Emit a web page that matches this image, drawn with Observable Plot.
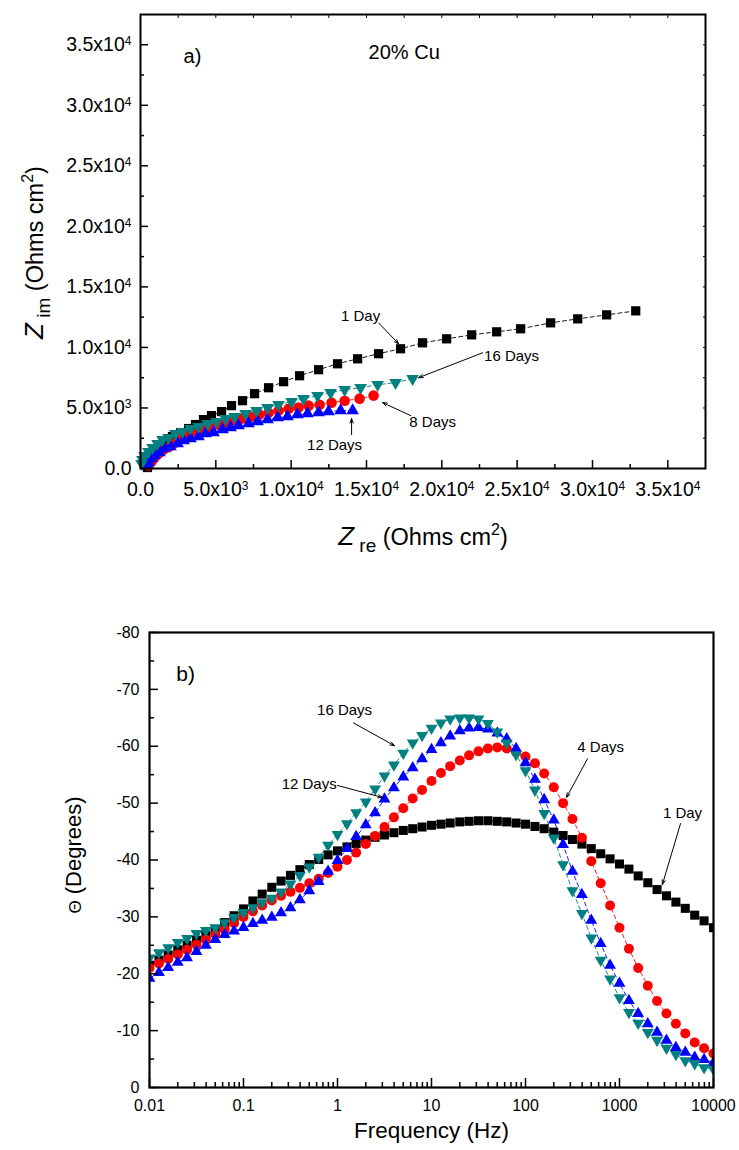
<!DOCTYPE html>
<html><head><meta charset="utf-8">
<script src="https://cdn.jsdelivr.net/npm/d3@7"></script>
<script src="https://cdn.jsdelivr.net/npm/@observablehq/plot@0.6"></script>
<style>
body{margin:0;background:#fff;}
#wrap{position:relative;width:739px;height:1150px;background:#fff;overflow:hidden;}
#wrap svg{position:absolute;left:0;}
</style></head><body><div id="wrap"></div>
<script>
// ---------- Panel a) Nyquist data (Ohms cm^2) ----------
const zre1  = [32870,30940,29020,27220,25230,23640,21980,20320,18720,17260,15800,14410,13080,11820,10560,9500,8500,7570,6770,6040,5380,4710,4180,3650,3190,2660,2120,1660,1260,930,660,530,460];
const zim1  = [13020,12690,12360,12030,11540,11290,11040,10710,10380,9890,9480,9060,8650,8160,7660,7170,6670,6180,5600,5190,4700,4370,4040,3630,3300,2970,2640,2220,1810,1320,820,410,80];
const zre8  = [15470,14540,13550,12680,11890,11160,10490,9830,9160,8500,7900,7300,6710,6180,5640,5110,4580,4120,3650,3190,2720,2320,1930,1530,1200,930,730,530];
const zim8  = [6020,5770,5600,5440,5270,5190,5030,4940,4780,4610,4450,4280,4120,3960,3790,3630,3380,3210,3050,2800,2550,2140,1810,1570,1240,910,580,250];
const zre12 = [14080,13280,12480,11820,11090,10420,9760,9100,8430,7770,7170,6510,5980,5440,4850,4320,3850,3320,2860,2460,1990,1590,1260,930,730,530,460];
const zim12 = [4780,4780,4700,4610,4530,4450,4280,4200,4040,3870,3710,3540,3380,3210,2970,2880,2640,2470,2310,2060,1810,1650,1320,1070,820,490,250];
const zre16 = [18060,16930,15740,14610,13550,12620,11750,10820,10030,9160,8430,7700,6970,6240,5640,5050,4450,3850,3320,2790,2320,1860,1460,1130,800,530,270,130,70];
const zim16 = [7420,7090,6920,6670,6510,6260,6020,5770,5520,5270,5030,4780,4530,4280,4120,3870,3710,3460,3300,3050,2880,2550,2390,2060,1730,1400,1070,740,410];

const ticksA = [0,5000,10000,15000,20000,25000,30000,35000];
const minorA = [2500,7500,12500,17500,22500,27500,32500];

const annA = [
  {text:"1 Day",   x:14610, y:12610},
  {text:"16 Days", x:24630, y:9310},
  {text:"8 Days",  x:19390, y:3790},
  {text:"12 Days", x:12880, y:1900}
];
const arrowsA = [
  {x1:15800,y1:12030,x2:17130,y2:10300},
  {x1:22710,y1:9560, x2:18460,y2:7500},
  {x1:17930,y1:4370, x2:16070,y2:5440},
  {x1:14010,y1:2800, x2:14010,y2:4120}
];
const panelLabelA = [{text:"a)", x:3450, y:34030}];
const alloyLabel  = [{text:"20% Cu", x:15140, y:34360}];

// ---------- Panel b) Bode phase data ----------
const freq = [0.01,0.0126,0.0158,0.02,0.0251,0.0316,0.0398,0.0501,0.0631,0.0794,
  0.1,0.126,0.158,0.2,0.251,0.316,0.398,0.501,0.631,0.794,
  1,1.26,1.58,2,2.51,3.16,3.98,5.01,6.31,7.94,
  10,12.6,15.8,20,25.1,31.6,39.8,50.1,63.1,79.4,
  100,126,158,200,251,316,398,501,631,794,
  1000,1260,1580,2000,2510,3160,3980,5010,6310,7940,10000];
const theta1 = [-21.5,-22.4,-23.3,-24.2,-25.0,-25.9,-26.8,-27.8,-29.0,-30.2,
  -31.4,-32.8,-34.0,-35.2,-36.3,-37.3,-38.3,-39.2,-40.1,-40.9,
  -41.6,-42.3,-42.9,-43.5,-44.0,-44.4,-44.8,-45.2,-45.5,-45.8,
  -46.1,-46.3,-46.5,-46.7,-46.8,-46.9,-46.9,-46.8,-46.7,-46.5,
  -46.3,-45.9,-45.5,-44.9,-44.3,-43.6,-42.8,-42.0,-41.1,-40.2,
  -39.3,-38.4,-37.2,-36.0,-34.8,-33.7,-32.6,-31.5,-30.3,-29.3,-28.1];
const theta4 = [-21.0,-21.8,-22.6,-23.4,-24.2,-25.1,-26.0,-26.9,-27.8,-28.9,
  -30.0,-31.0,-32.0,-32.9,-33.7,-34.4,-35.1,-35.9,-36.7,-37.7,
  -38.8,-40.0,-41.3,-42.8,-44.2,-45.8,-47.5,-49.1,-50.8,-52.3,
  -53.9,-55.3,-56.5,-57.5,-58.4,-59.1,-59.6,-59.8,-59.6,-59.0,
  -58.2,-57.0,-55.2,-52.8,-50.0,-47.2,-43.9,-39.8,-35.9,-32.0,
  -28.1,-24.4,-21.0,-17.9,-15.2,-13.0,-11.2,-9.5,-7.9,-6.9,-6.0];
const theta12 = [-19.2,-20.2,-21.1,-22.0,-22.8,-23.9,-25.0,-26.0,-26.9,-27.5,
  -28.1,-28.8,-29.4,-29.9,-30.7,-31.6,-33.0,-34.6,-36.2,-38.0,
  -39.9,-42.0,-44.1,-46.2,-48.3,-50.7,-52.7,-54.6,-56.2,-57.8,
  -59.4,-60.6,-61.8,-62.7,-63.2,-63.3,-63.0,-62.3,-61.3,-59.6,
  -57.1,-54.2,-50.6,-47.0,-42.7,-38.0,-33.9,-29.4,-25.3,-21.5,
  -18.3,-15.3,-13.0,-11.2,-9.7,-8.3,-7.0,-6.2,-5.3,-4.9,-4.4];
const theta16 = [-22.8,-23.7,-24.6,-25.5,-26.2,-27.1,-27.6,-28.1,-29.0,-29.9,
  -30.8,-31.6,-32.5,-33.3,-34.4,-35.8,-37.3,-38.8,-40.5,-42.6,
  -44.5,-46.4,-48.3,-50.2,-52.5,-54.8,-56.7,-58.8,-60.6,-61.9,
  -63.2,-64.1,-64.8,-65.0,-65.0,-64.8,-64.0,-62.5,-60.6,-58.5,
  -55.7,-52.3,-48.2,-43.9,-39.2,-34.6,-30.6,-26.3,-22.4,-19.1,
  -15.8,-13.2,-11.3,-9.7,-8.3,-6.9,-5.8,-4.7,-4.2,-3.5,-3.2];

const ticksBx = [0.01,0.1,1,10,100,1000,10000];
const ticksBy = [0,-10,-20,-30,-40,-50,-60,-70,-80];
const minorBy = [-5,-15,-25,-35,-45,-55,-65,-75];

const annB = [
  {text:"16 Days", f:1.19, t:-66.3},
  {text:"12 Days", f:0.50, t:-53.3},
  {text:"4 Days",  f:630,  t:-59.9},
  {text:"1 Day",   f:4680, t:-48.2}
];
const arrowsB = [
  {f1:1.48, t1:-64.1, f2:4.04, t2:-60.1},
  {f1:1.0,  t1:-53.1, f2:3.0,  t2:-51.0},
  {f1:457,  t1:-57.8, f2:273,  t2:-51.0},
  {f1:4460, t1:-46.4, f2:2860, t2:-35.7}
];
const panelLabelB = [{text:"b)", f:0.0242, t:-72.6}];

// ---------- helpers ----------
const FONT = "'Liberation Sans', Arial, Helvetica, sans-serif";
const BLACK = "#000000", RED = "#ff0000", BLUE = "#0000ff", TEAL = "#008080";
const S3 = Math.sqrt(3);
const downTri = {draw(ctx, size){ const y = -Math.sqrt(size / (S3 * 3)); ctx.moveTo(0, -2 * y); ctx.lineTo(-S3 * y, y); ctx.lineTo(S3 * y, y); ctx.closePath(); }};
const upTri = {draw(ctx, size){ const y = -Math.sqrt(size / (S3 * 3)); ctx.moveTo(0, 2 * y); ctx.lineTo(-S3 * y, -y); ctx.lineTo(S3 * y, -y); ctx.closePath(); }};

const zip = (xs, ys) => xs.map((x, i) => ({x, y: ys[i]}));
const sciFmt = v => {
  if (v === 0) return "0.0";
  const e = Math.floor(Math.log10(v) + 1e-9);
  return (v / Math.pow(10, e)).toFixed(1) + "x10^" + e;
};
const minorBx = [];
for (let k = -2; k < 4; k++) for (let m = 2; m <= 9; m++) minorBx.push(m * Math.pow(10, k));

const blank = () => "";
const W = 739, H = 575;

// ---------- Panel a ----------
const s1 = zip(zre1, zim1), s8 = zip(zre8, zim8), s12 = zip(zre12, zim12), s16 = zip(zre16, zim16);
const lineOpts = {x:"x", y:"y", strokeWidth:0.9, strokeDasharray:"4,3"};
const plotA = Plot.plot({
  width: W, height: H,
  marginLeft: 140, marginRight: 34, marginTop: 14, marginBottom: 107,
  style: {fontFamily: FONT, fontSize: "19px", color: "#000", background: "transparent", overflow: "visible"},
  x: {domain: [0, 37500], label: null},
  y: {domain: [0, 37500], label: null},
  marks: [
    Plot.line(s1,  {...lineOpts, stroke: BLACK}),
    Plot.line(s8,  {...lineOpts, stroke: RED}),
    Plot.line(s12, {...lineOpts, stroke: BLUE}),
    Plot.line(s16, {...lineOpts, stroke: TEAL}),
    Plot.dot(s1,  {x:"x", y:"y", symbol:"square", r:5.2, fill: BLACK, stroke: null}),
    Plot.dot(s8,  {x:"x", y:"y", symbol:"circle", r:5.3, fill: RED, stroke: null}),
    Plot.dot(s12, {x:"x", y:"y", symbol: upTri, r:4.7, fill: BLUE, stroke: null}),
    Plot.dot(s16, {x:"x", y:"y", symbol: downTri, r:4.7, fill: TEAL, stroke: null}),
    Plot.axisX(ticksA, {anchor:"bottom", tickSize:-8, tickPadding:22, tickFormat: sciFmt, fontSize:19.5, strokeWidth:1.5}),
    Plot.axisX(minorA, {anchor:"bottom", tickSize:-4, tickFormat: blank, strokeWidth:1.5}),
    Plot.axisY(ticksA, {anchor:"left", tickSize:-8, tickPadding:17, tickFormat: sciFmt, fontSize:19.5, strokeWidth:1.5}),
    Plot.axisY(minorA, {anchor:"left", tickSize:-4, tickFormat: blank, strokeWidth:1.5}),
    Plot.axisX(ticksA.concat(minorA), {anchor:"top", tickSize:-3, tickFormat: blank, strokeWidth:1}),
    Plot.axisY(ticksA.concat(minorA), {anchor:"right", tickSize:-3, tickFormat: blank, strokeWidth:1}),
    Plot.frame({stroke: BLACK, strokeWidth: 2}),
    Plot.arrow(arrowsA, {x1:"x1", y1:"y1", x2:"x2", y2:"y2", stroke: BLACK, strokeWidth:1, headLength:7, headAngle:40}),
    Plot.text(annA, {x:"x", y:"y", text:"text", fontSize:15, fill: BLACK}),
    Plot.text(panelLabelA, {x:"x", y:"y", text:"text", fontSize:20, fill: BLACK}),
    Plot.text(alloyLabel, {x:"x", y:"y", text:"text", fontSize:20, textAnchor:"start", fill: BLACK}),
    Plot.text(["Z re (Ohms cm2)"], {frameAnchor:"bottom", dy:76, lineAnchor:"bottom", textAnchor:"middle", fontSize:24, fill: BLACK}),
    Plot.text(["Z im (Ohms cm2)"], {frameAnchor:"left", dx:-98, dy:11, rotate:-90, lineAnchor:"bottom", textAnchor:"middle", fontSize:24, fill: BLACK})
  ]
});

// ---------- Panel b ----------
const b1 = freq.map((f, i) => ({f, t: theta1[i]}));
const b4 = freq.map((f, i) => ({f, t: theta4[i]}));
const b12 = freq.map((f, i) => ({f, t: theta12[i]}));
const b16 = freq.map((f, i) => ({f, t: theta16[i]}));
const lineB = {x:"f", y:"t", strokeWidth:0.9, strokeDasharray:"4,3"};
const plotB = Plot.plot({
  width: W, height: H,
  marginLeft: 149, marginRight: 26, marginTop: 57, marginBottom: 63,
  style: {fontFamily: FONT, fontSize: "16px", color: "#000", background: "transparent", overflow: "visible"},
  x: {type: "log", domain: [0.01, 10000], label: null},
  y: {domain: [0, -80], label: null},
  marks: [
    Plot.line(b1,  {...lineB, stroke: BLACK}),
    Plot.line(b4,  {...lineB, stroke: RED}),
    Plot.line(b12, {...lineB, stroke: BLUE}),
    Plot.line(b16, {...lineB, stroke: TEAL}),
    Plot.dot(b1,  {x:"f", y:"t", symbol:"square", r:5.1, fill: BLACK, stroke: null, clip: true}),
    Plot.dot(b4,  {x:"f", y:"t", symbol:"circle", r:5, fill: RED, stroke: null, clip: true}),
    Plot.dot(b12, {x:"f", y:"t", symbol: upTri, r:4.4, fill: BLUE, stroke: null, clip: true}),
    Plot.dot(b16, {x:"f", y:"t", symbol: downTri, r:4.4, fill: TEAL, stroke: null, clip: true}),
    Plot.axisX(ticksBx, {anchor:"bottom", tickSize:-9, tickPadding:21, tickFormat: d => String(d), fontSize:16, strokeWidth:1.5}),
    Plot.axisX(minorBx, {anchor:"bottom", tickSize:-5, tickFormat: blank, strokeWidth:1.5}),
    Plot.axisY(ticksBy, {anchor:"left", tickSize:-9, tickPadding:19, tickFormat: d => String(d), fontSize:16, strokeWidth:1.5}),
    Plot.axisY(minorBy, {anchor:"left", tickSize:-5, tickFormat: blank, strokeWidth:1.5}),
    Plot.frame({stroke: BLACK, strokeWidth: 2.2}),
    Plot.arrow(arrowsB, {x1:"f1", y1:"t1", x2:"f2", y2:"t2", stroke: BLACK, strokeWidth:1, headLength:7, headAngle:40}),
    Plot.text(annB, {x:"f", y:"t", text:"text", fontSize:15, fill: BLACK}),
    Plot.text(panelLabelB, {x:"f", y:"t", text:"text", fontSize:21, fill: BLACK}),
    Plot.text(["Frequency (Hz)"], {frameAnchor:"bottom", dy:50, lineAnchor:"bottom", textAnchor:"middle", fontSize:22.5, fill: BLACK}),
    Plot.text(["Θ (Degrees)"], {frameAnchor:"left", dx:-69, dy:-5, rotate:-90, lineAnchor:"bottom", textAnchor:"middle", fontSize:22, fill: BLACK})
  ]
});

// ---------- rich text (sub/superscripts) ----------
const richLabels = {
  "Z re (Ohms cm2)": '<tspan font-size="26" font-style="italic">Z</tspan><tspan font-size="19" dy="7"> re</tspan><tspan font-size="23.5" dy="-7"> (Ohms cm</tspan><tspan font-size="16" dy="-10">2</tspan><tspan font-size="23.5" dy="10">)</tspan>',
  "Z im (Ohms cm2)": '<tspan font-size="26" font-style="italic">Z</tspan><tspan font-size="19" dy="7"> im</tspan><tspan font-size="23.5" dy="-7"> (Ohms cm</tspan><tspan font-size="16" dy="-10">2</tspan><tspan font-size="23.5" dy="10">)</tspan>',
  "Θ (Degrees)": '<tspan font-size="17">Θ</tspan> (Degrees)'
};
function enrich(svg) {
  svg.querySelectorAll("text").forEach(t => {
    const s = t.textContent;
    const m = s.match(/^(\d\.\d)x10\^(\d)$/);
    if (m) { t.innerHTML = m[1] + 'x10<tspan dy="-6" font-size="12">' + m[2] + '</tspan>'; return; }
    if (richLabels[s]) t.innerHTML = richLabels[s];
  });
}
enrich(plotA); enrich(plotB);

const wrap = document.getElementById("wrap");
plotA.style.top = "0px";
plotB.style.top = "575px";
wrap.appendChild(plotA);
wrap.appendChild(plotB);
</script></body></html>
